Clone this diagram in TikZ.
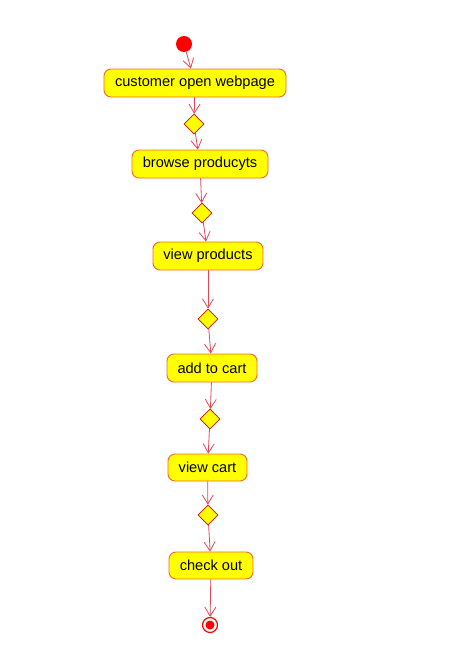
\documentclass[tikz,border=0pt]{standalone}
\usepackage{fontspec}
\setmainfont{Liberation Sans}
\usetikzlibrary{shapes.geometric,arrows.meta}
\definecolor{boxfill}{HTML}{FFFF00}
\definecolor{boxline}{HTML}{EE6A30}
\definecolor{dialine}{HTML}{C81010}
\definecolor{edgecol}{HTML}{E04858}
\definecolor{startred}{HTML}{FF0000}
\begin{document}
\begin{tikzpicture}[x=1pt,y=-1pt,
  actbox/.style={draw=boxline,fill=boxfill,rounded corners=7pt,line width=0.9pt,
    inner sep=0pt,font=\fontsize{14.6}{16}\selectfont,text=black},
  decis/.style={diamond,draw=dialine,fill=boxfill,line width=0.8pt,inner sep=0pt,
    minimum width=20pt,minimum height=20pt},
  flow/.style={draw=edgecol,line width=0.8pt,-{Straight Barb[length=9pt,width=11pt,line width=0.8pt]}}]
\useasboundingbox (0,0) rectangle (471,645);
\fill[white] (0,0) rectangle (471,645);
\node[circle,fill=startred,inner sep=0pt,minimum size=16pt] (start) at (184,44) {};
\node[actbox,minimum width=182pt,minimum height=28pt] (b1) at (195,83) {customer open webpage};
\node[decis] (d1) at (194,124) {};
\node[actbox,minimum width=136pt,minimum height=28pt] (b2) at (200,164) {browse producyts};
\node[decis] (d2) at (202,213) {};
\node[actbox,minimum width=110pt,minimum height=28pt] (b3) at (208,256) {view products};
\node[decis] (d3) at (208,319) {};
\node[actbox,minimum width=90pt,minimum height=28pt] (b4) at (212,368) {add to cart};
\node[decis] (d4) at (210,419) {};
\node[actbox,minimum width=79pt,minimum height=27pt] (b5) at (207.5,467.5) {view cart};
\node[decis] (d5) at (208,515) {};
\node[actbox,minimum width=84pt,minimum height=27pt] (b6) at (211,565.5) {check out};
\node[circle,draw=startred,line width=1.2pt,fill=white,inner sep=0pt,minimum size=15pt] (end) at (210,625) {};
\node[circle,fill=startred,inner sep=0pt,minimum size=9pt] (endin) at (210,625) {};
\draw[flow] (start) -- (b1);
\draw[flow] (b1) -- (d1);
\draw[flow] (d1) -- (b2);
\draw[flow] (b2) -- (d2);
\draw[flow] (d2) -- (b3);
\draw[flow] (b3) -- (d3);
\draw[flow] (d3) -- (b4);
\draw[flow] (b4) -- (d4);
\draw[flow] (d4) -- (b5);
\draw[flow] (b5) -- (d5);
\draw[flow] (d5) -- (b6);
\draw[flow] (b6) -- (end);
\end{tikzpicture}
\end{document}
